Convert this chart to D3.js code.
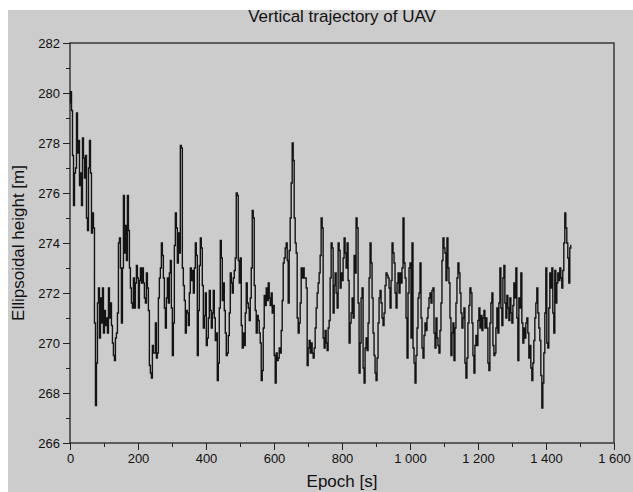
<!DOCTYPE html>
<html>
<head>
<meta charset="utf-8">
<script src="https://cdn.jsdelivr.net/npm/d3@7"></script>
<style>
  html, body { margin: 0; padding: 0; background: #ffffff; }
  svg { display: block; font-family: "Liberation Sans", Arial, sans-serif; }
</style>
</head>
<body>
<div id="chart"></div>
<script>
// ellipsoidal height of the UAV, one reading per ~2.94 s epoch step
var sampleStep = 2.937;
var heights = [
  279.6, 280.05, 279.3, 277.5, 275.5, 276.8, 277.0, 279.2, 277.6, 278.1,
  276.3, 276.8, 275.5, 278.2, 277.4, 276.6, 277.5, 275.0, 274.5, 277.0,
  278.1, 276.8, 274.4, 275.2, 274.6, 270.8, 267.5, 269.2, 271.6, 272.2,
  270.2, 271.8, 270.8, 272.2, 270.4, 271.3, 270.7, 271.0, 270.4, 272.2,
  271.0, 271.6, 270.7, 270.0, 269.5, 269.3, 270.2, 270.4, 271.2, 274.0,
  274.2, 273.0, 270.8, 273.0, 275.9, 273.6, 274.7, 273.3, 275.9, 274.5,
  273.0, 272.2, 271.6, 271.4, 272.6, 271.4, 272.4, 273.1, 272.6, 271.4,
  272.5, 273.0, 272.4, 273.0, 272.4, 271.8, 271.6, 272.8, 272.2, 271.3,
  269.1, 268.8, 268.6, 269.9, 269.6,
  // 250 s
  269.6, 270.8, 269.4, 269.6, 271.8, 272.6, 273.0, 274.0, 273.5, 272.6,
  271.4, 270.6, 271.8, 272.6, 271.6, 272.8, 273.3, 271.4, 269.5, 270.8,
  273.9, 275.2, 274.6, 273.2, 274.4, 273.6, 277.9, 277.8, 273.0, 272.3,
  271.7, 270.4, 271.3, 271.2, 270.7, 272.0, 273.0, 272.5, 272.9, 272.0,
  273.0, 274.0, 273.5, 269.5, 271.3, 273.1, 274.2, 273.8, 272.3, 270.6,
  271.1, 272.0, 269.9, 270.2, 271.0, 272.1, 271.3, 270.6, 271.2, 272.1,
  271.0, 270.1, 270.4, 268.5, 269.2, 271.4, 274.1, 273.4, 271.7, 272.4,
  271.3, 270.4, 269.5, 269.6, 270.3, 271.2, 272.8, 272.4, 272.0, 272.6,
  272.9, 273.4, 276.0, 275.9, 273.3, 272.4,
  // 500 s
  273.4, 270.7, 269.8, 270.4, 269.9, 271.2, 272.4, 271.6, 271.4, 270.9,
  271.8, 273.0, 275.3, 275.0, 272.3, 271.3, 270.4, 271.1, 270.9, 270.4,
  270.0, 268.5, 268.9, 270.6, 271.9, 271.5, 272.2, 271.7, 272.4, 271.8,
  271.5, 272.0, 271.2, 271.5, 269.5, 268.4, 269.6, 269.3, 269.4, 269.8,
  269.6, 270.5, 271.7, 273.2, 273.4, 273.8, 274.0, 273.3, 271.6, 273.7,
  275.0, 276.4, 278.0, 277.3, 275.0, 274.0, 273.6, 271.0, 270.4, 270.8,
  271.6, 273.0, 272.6, 273.0, 272.6, 272.6, 272.2, 269.1, 269.8, 270.1,
  269.6, 270.0, 269.6, 269.4, 269.8, 270.6, 271.4, 272.0, 272.4, 272.8,
  273.5, 275.0, 274.6, 270.2, 269.8, 270.5,
  // 755 s
  270.0, 269.7, 270.6, 270.9, 272.6, 274.0, 273.8, 271.2, 272.3, 272.8,
  272.0, 271.4, 274.0, 273.7, 272.2, 272.8, 272.5, 273.4, 274.2, 273.6,
  273.0, 274.0, 272.5, 270.0, 270.8, 271.2, 271.8, 271.0, 273.5, 272.8,
  275.0, 274.6, 271.6, 268.8, 270.0, 271.8, 272.2, 269.0, 268.4, 269.8,
  270.2, 269.7, 270.8, 272.6, 274.0, 273.2, 271.8, 270.4, 269.5, 268.8,
  268.5, 269.4, 270.8, 271.8, 272.1, 271.6, 271.0, 270.7, 271.2, 272.3,
  272.8, 272.7, 272.6, 272.2, 271.4, 272.5, 274.0, 273.6, 273.2, 272.0,
  271.4, 272.4, 272.8, 272.0, 272.8, 272.4, 273.0, 275.0, 273.2, 272.6,
  271.0, 269.4, 272.0, 273.0, 273.2, 270.2,
  // 1005 s
  274.0, 269.8, 269.2, 268.4, 269.5, 270.6, 271.8, 272.0, 273.2, 271.0,
  269.8, 269.4, 270.3, 270.8, 270.5, 271.0, 271.4, 271.8, 272.0, 271.6,
  272.1, 272.2, 270.4, 269.8, 271.0, 270.2, 269.9, 269.6, 270.5, 271.6,
  273.3, 274.2, 273.8, 273.6, 272.5, 274.2, 273.0, 272.4, 271.0, 269.5,
  270.4, 270.8, 269.3, 270.6, 271.6, 272.6, 273.2, 272.8, 272.0, 271.2,
  270.6, 271.0, 271.4, 269.2, 268.6, 269.4, 270.8, 271.5, 272.2, 272.0,
  270.8, 269.5, 268.8, 269.9, 270.3, 269.9, 270.9, 271.4, 270.6, 271.1,
  270.5, 271.0, 271.3, 270.6, 271.0, 270.6, 269.2, 268.9, 270.8, 271.6,
  272.0, 269.9, 269.5, 269.6, 270.6, 271.4,
  // 1255 s
  270.4, 271.6, 273.0, 271.4, 270.7, 272.6, 273.1, 271.6, 271.0, 271.9,
  271.4, 270.9, 271.8, 271.2, 270.8, 271.5, 272.4, 271.8, 273.0, 271.0,
  269.3, 271.8, 271.4, 272.8, 270.8, 270.0, 270.6, 270.2, 270.8, 271.0,
  270.4, 269.4, 269.9, 269.0, 268.5, 269.2, 270.1, 271.0, 271.6, 272.2,
  271.2, 270.6, 270.1, 268.7, 267.4, 268.4, 269.6, 271.2, 273.0, 270.0,
  269.8, 271.4, 272.8, 272.2, 273.0, 271.2, 270.4, 272.9, 271.6, 272.4,
  272.8, 272.5, 273.0, 272.6, 272.2, 272.9, 274.0, 275.2, 274.6, 274.0,
  273.4, 272.4, 273.8, 273.9
];

var xTicks = [0, 200, 400, 600, 800, 1000, 1200, 1400, 1600];
var yTicks = [266, 268, 270, 272, 274, 276, 278, 280, 282];

var width = 633, height = 492;
var plot = { left: 70, right: 614, top: 43, bottom: 443 };

var svg = d3.select('#chart').append('svg')
    .attr('width', width)
    .attr('height', height);

// grey figure background
svg.append('rect')
    .attr('x', 8).attr('y', 10)
    .attr('width', width - 8).attr('height', height - 10)
    .attr('fill', '#cccccc');

var x = d3.scaleLinear().domain([0, 1600]).range([plot.left, plot.right]);
var y = d3.scaleLinear().domain([266, 282]).range([plot.bottom, plot.top]);

var fmt = function(d){
    return d3.format(',')(d).replace(/,/g, ' ');
};

svg.append('g')
    .attr('transform', 'translate(0,' + plot.bottom + ')')
    .call(d3.axisBottom(x).tickValues(xTicks).tickFormat(fmt).tickSize(7).tickPadding(4));
svg.append('g')
    .attr('transform', 'translate(0,' + plot.bottom + ')')
    .call(d3.axisBottom(x).tickValues(d3.range(100, 1600, 200)).tickFormat('').tickSize(4));

svg.append('g')
    .attr('transform', 'translate(' + plot.left + ',0)')
    .call(d3.axisLeft(y).tickValues(yTicks).tickSize(7).tickPadding(3));
svg.append('g')
    .attr('transform', 'translate(' + plot.left + ',0)')
    .call(d3.axisLeft(y).tickValues(d3.range(267, 282, 2)).tickFormat('').tickSize(4));

svg.selectAll('.domain').remove();
svg.selectAll('.tick line').attr('stroke', '#222');
svg.selectAll('.tick text')
    .attr('fill', '#111')
    .style('font-size', '13px');

// plot frame
svg.append('rect')
    .attr('x', plot.left).attr('y', plot.top)
    .attr('width', plot.right - plot.left)
    .attr('height', plot.bottom - plot.top)
    .attr('fill', 'none')
    .attr('stroke', '#222')
    .attr('stroke-width', 1.3);

// step drawing gives the vertical jumps of the 1 Hz record
var line = d3.line()
    .curve(d3.curveStep)
    .x(function(d, i){ return x(i * sampleStep); })
    .y(function(d){ return y(d); });

svg.append('path')
    .datum(heights)
    .attr('d', line)
    .attr('fill', 'none')
    .attr('stroke', '#141414')
    .attr('stroke-width', 1.4);

svg.append('text')
    .attr('x', 342).attr('y', 22)
    .attr('text-anchor', 'middle')
    .attr('fill', '#111')
    .style('font-size', '17px')
    .text('Vertical trajectory of UAV');

svg.append('text')
    .attr('x', 342).attr('y', 487)
    .attr('text-anchor', 'middle')
    .attr('fill', '#111')
    .style('font-size', '17px')
    .text('Epoch [s]');

svg.append('text')
    .attr('transform', 'translate(24,243) rotate(-90)')
    .attr('text-anchor', 'middle')
    .attr('fill', '#111')
    .style('font-size', '17px')
    .text('Ellipsoidal height [m]');
</script>
</body>
</html>
